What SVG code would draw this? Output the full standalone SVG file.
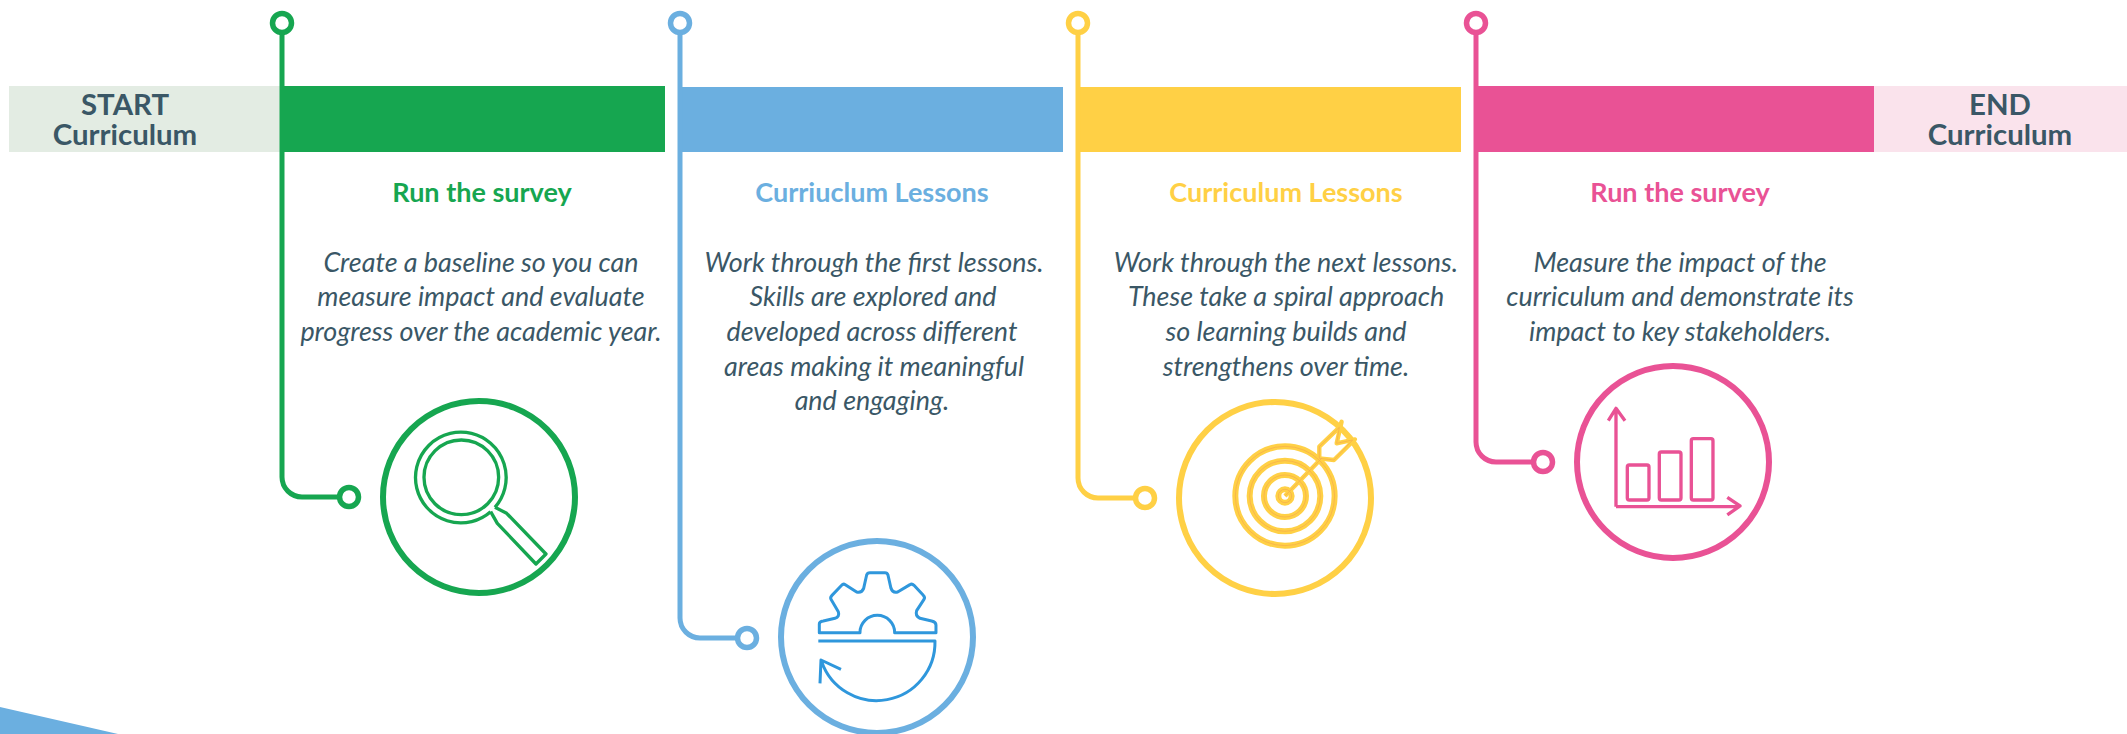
<svg xmlns="http://www.w3.org/2000/svg" width="2127" height="734" viewBox="0 0 2127 734">
<style>
.c{fill:none;stroke-width:5;stroke-linecap:butt}
.dot{fill:#fff;stroke-width:5.5}
.ring{fill:#fff;stroke-width:6}
.green{stroke:#16a650}.blue{stroke:#6bafe0}.yellow{stroke:#ffd045}.pink{stroke:#e95295}
text{font-family:Lato,"Noto Sans","Liberation Sans",sans-serif;text-anchor:middle}
.cap{font-size:29.4px;font-weight:700;fill:#3a5766}
.t{font-size:27px;font-weight:700}
.b{font-size:26.9px;font-style:italic;fill:#3a5766}
.ic{fill:none;stroke-linejoin:round}
</style>
<rect width="2127" height="734" fill="#fff"/>
<polygon points="0,707 118,734 0,734" fill="#6bafe0"/>
<g id="start"><rect x="9" y="86" width="271" height="66" fill="#e3ece3"/><text class="cap" x="125" y="115">START</text><text class="cap" x="125" y="145">Curriculum</text></g>
<g id="end"><rect x="1874" y="86" width="253" height="66" fill="#fae3ec"/><text class="cap" x="2000" y="115">END</text><text class="cap" x="2000" y="145">Curriculum</text></g>
<g id="bands">
<rect x="280" y="86" width="385" height="66" fill="#16a650"/>
<rect x="678" y="87" width="385" height="65" fill="#6bafe0"/>
<rect x="1077" y="87" width="384" height="65" fill="#ffd045"/>
<rect x="1474" y="86" width="400" height="66" fill="#e95295"/>
</g>
<g id="connectors">
<path class="c green" d="M282 32V477a20 20 0 0 0 20 20H339"/>
<path class="c blue" d="M680 32V618a20 20 0 0 0 20 20H737"/>
<path class="c yellow" d="M1078 32V478a20 20 0 0 0 20 20H1135"/>
<path class="c pink" d="M1476 32V442a20 20 0 0 0 20 20H1533"/>
</g>
<g id="step1">
<circle class="dot green" cx="282" cy="23" r="9.5"/><circle class="dot green" cx="349" cy="497" r="9.5"/>
<text class="t" x="482" y="202" fill="#16a650">Run the survey</text>
<text class="b" x="481" y="272">Create a baseline so you can</text>
<text class="b" x="481" y="306">measure impact and evaluate</text>
<text class="b" x="481" y="341">progress over the academic year.</text>
<circle class="ring green" cx="479" cy="497" r="96"/>
<g class="ic green" transform="translate(260 380) scale(.3333)" stroke-width="10">
<path d="M692 395A136 136 0 1 1 705 382"/><circle cx="604" cy="292" r="112"/>
<path d="M705 382L740 400L858 522L828 552L712 430L692 395"/>
</g>
</g>
<g id="step2">
<circle class="dot blue" cx="680" cy="23" r="9.5"/><circle class="dot blue" cx="747" cy="638" r="9.5"/>
<text class="t" x="872" y="202" fill="#6bafe0">Curriuclum Lessons</text>
<text class="b" x="874" y="272">Work through the first lessons.</text>
<text class="b" x="873" y="306">Skills are explored and</text>
<text class="b" x="872" y="341">developed across different</text>
<text class="b" x="874" y="376">areas making it meaningful</text>
<text class="b" x="872" y="410">and engaging.</text>
<circle class="ring blue" cx="877" cy="637" r="96"/>
<g class="ic" stroke="#2f97dc" transform="translate(660 520) scale(.3333)" stroke-width="9">
<path d="M478 338V312Q478 305 490 303L525 295Q540 290 535 275L513 238Q510 232 516 226L545 196Q550 190 556 194L590 216Q605 220 611 205L620 165Q622 158 630 158H675Q682 158 684 165L693 205Q698 220 713 216L750 194Q756 190 762 196L790 226Q796 232 792 238L770 272Q765 288 780 295L815 303Q828 306 828 315V338H704A52 52 0 0 0 600 338Z"/>
<path d="M475 363H825A175 175 0 0 1 485 425M480 490L483 420L543 448"/>
</g>
</g>
<g id="step3">
<circle class="dot yellow" cx="1078" cy="23" r="9.5"/><circle class="dot yellow" cx="1145" cy="498" r="9.5"/>
<text class="t" x="1286" y="202" fill="#ffd045">Curriculum Lessons</text>
<text class="b" x="1286" y="272">Work through the next lessons.</text>
<text class="b" x="1286" y="306">These take a spiral approach</text>
<text class="b" x="1286" y="341">so learning builds and</text>
<text class="b" x="1286" y="376">strengthens over time.</text>
<circle class="ring yellow" cx="1275" cy="498" r="96"/>
<g class="ic" transform="translate(1060 380) scale(.3333)" stroke="#ffd045" stroke-width="18">
<circle cx="675" cy="348" r="149"/><circle cx="675" cy="348" r="106"/><circle cx="675" cy="348" r="63"/><circle cx="675" cy="348" r="20"/>
<path stroke-width="13" d="M675 348L785 235M778 235V200L838 142L845 125L830 190L885 178L822 240Z"/>
<g stroke="#f4a94f" stroke-width="2"><circle cx="675" cy="348" r="149"/><circle cx="675" cy="348" r="106"/><circle cx="675" cy="348" r="63"/><circle cx="675" cy="348" r="20"/>
<path d="M675 348L785 235M778 235V200L838 142L830 190L878 180L822 240Z"/></g>
</g>
</g>
<g id="step4">
<circle class="dot pink" cx="1476" cy="23" r="9.5"/><circle class="dot pink" cx="1543" cy="462" r="9.5"/>
<text class="t" x="1680" y="202" fill="#e95295">Run the survey</text>
<text class="b" x="1680" y="272">Measure the impact of the</text>
<text class="b" x="1680" y="306">curriculum and demonstrate its</text>
<text class="b" x="1680" y="341">impact to key stakeholders.</text>
<circle class="ring pink" cx="1673" cy="462" r="96"/>
<g class="ic pink" transform="translate(1460 340) scale(.3333)" stroke-width="10">
<path d="M468 500V205M445 242L468 205L495 242M468 500H840M802 472L840 498L802 525"/>
<rect x="502" y="375" width="65" height="105" rx="6"/><rect x="598" y="336" width="65" height="144" rx="6"/><rect x="694" y="296" width="65" height="184" rx="6"/>
</g>
</g>
</svg>
